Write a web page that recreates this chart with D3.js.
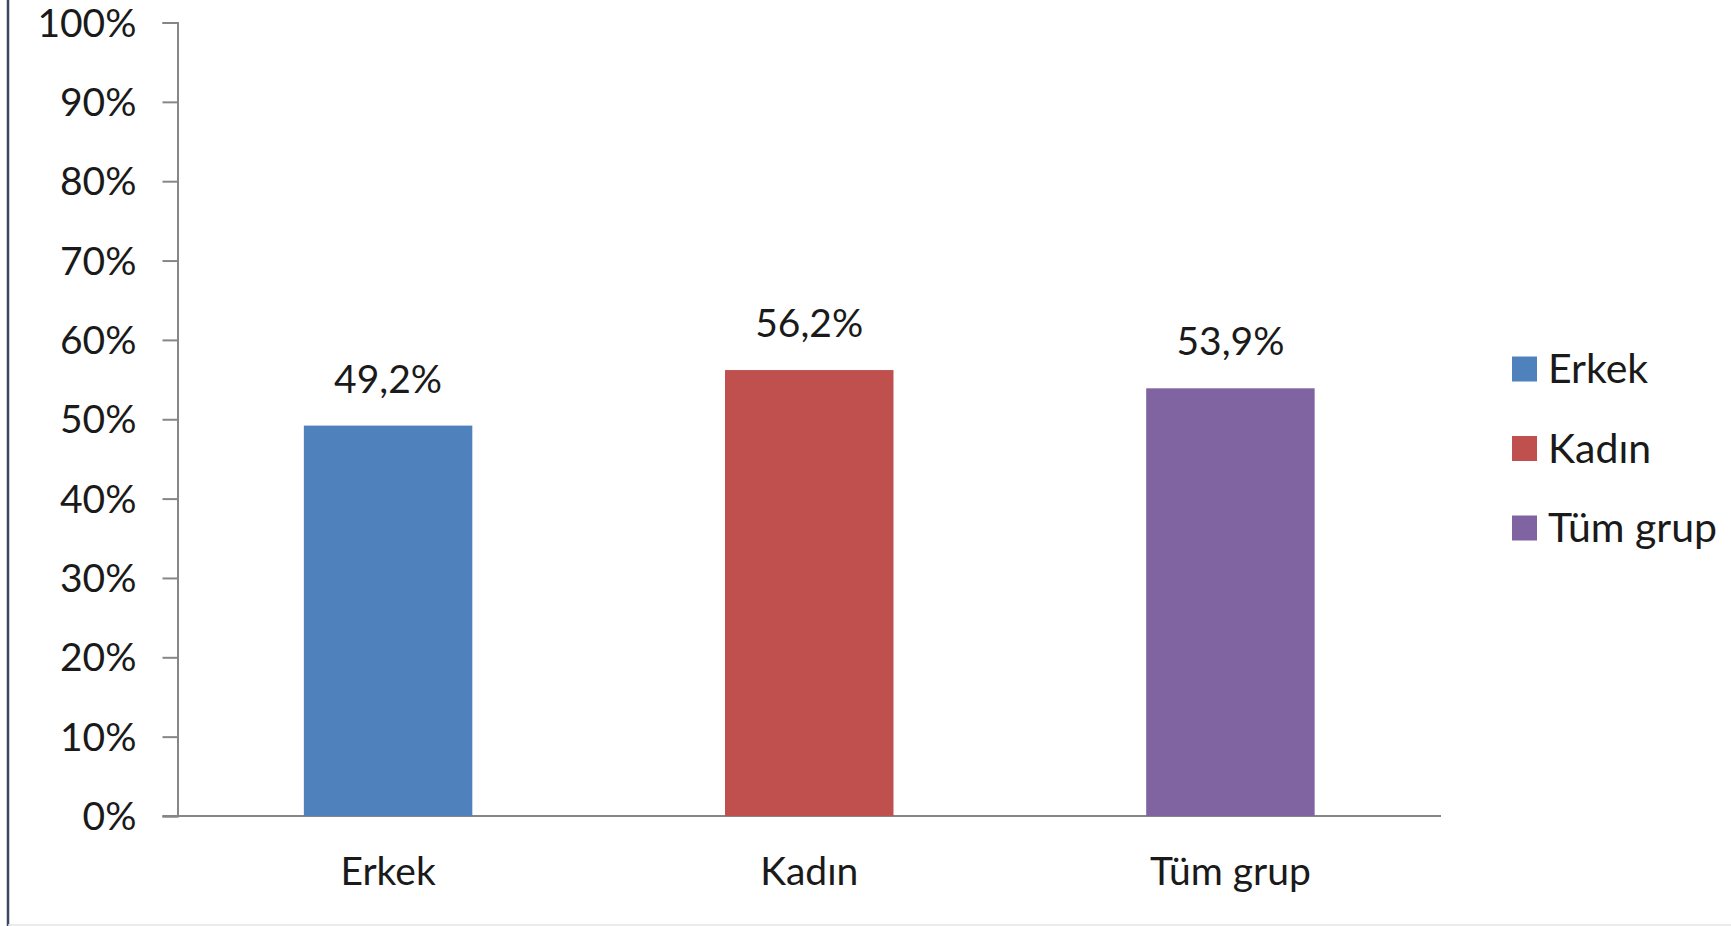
<!DOCTYPE html>
<html><head><meta charset="utf-8">
<script src="https://cdn.jsdelivr.net/npm/d3@7"></script>
<style>
html,body{margin:0;padding:0;background:#fff;}
svg{display:block;font-family:Lato,"Open Sans",sans-serif;}
</style></head>
<body>
<svg id="chart" width="1731" height="926"></svg>
<script>
const categories = ["Erkek", "Kadın", "Tüm grup"];
const values = [49.2, 56.2, 53.9];
const valueLabels = ["49,2%", "56,2%", "53,9%"];
const colors = ["#4f81bd", "#c0504d", "#8064a2"];
const yTicks = [0, 10, 20, 30, 40, 50, 60, 70, 80, 90, 100];

(function () {
const svg = d3.select("#chart");
const W = 1731, H = 926;
const mLeft = 177.5, mRight = 1441, mTop = 22.5, mBottom = 816;

// frame borders
svg.append("line").attr("x1", 8).attr("x2", 8).attr("y1", 0).attr("y2", H)
  .attr("stroke", "#3b4660").attr("stroke-width", 2.5);
svg.append("line").attr("x1", 8).attr("x2", W).attr("y1", 925).attr("y2", 925)
  .attr("stroke", "#e4e4e4").attr("stroke-width", 1.5);

const x = d3.scaleBand().domain(categories).range([mLeft, mRight]).padding(0);
const y = d3.scaleLinear().domain([0, 100]).range([mBottom, mTop]);

// y axis
const yAxis = d3.axisLeft(y).tickValues(yTicks).tickFormat(d => d + "%").tickSize(15).tickPadding(26);
const gy = svg.append("g").attr("transform", `translate(${mLeft},0)`).call(yAxis);
gy.select(".domain").attr("stroke", "#868686").attr("stroke-width", 2);
gy.selectAll(".tick line").attr("stroke", "#868686").attr("stroke-width", 2);
gy.selectAll(".tick text").attr("fill", "#1a1a1a").style("font-size", "39px")
  .style("font-family", "Lato, 'Open Sans', sans-serif").attr("dy", "0.35em");

// x axis
const xAxis = d3.axisBottom(x).tickSize(0).tickPadding(41);
const gx = svg.append("g").attr("transform", `translate(0,${mBottom})`).call(xAxis);
gx.select(".domain").attr("stroke", "#868686").attr("stroke-width", 2).attr("d", `M${mLeft - 15},0H${mRight}`);
gx.selectAll(".tick text").attr("fill", "#1a1a1a").style("font-size", "39px")
  .style("font-family", "Lato, 'Open Sans', sans-serif");

// bars
const bw = x.bandwidth() * 0.4;
svg.append("g").selectAll("rect").data(values).join("rect")
  .attr("x", (d, i) => x(categories[i]) + x.bandwidth() / 2 - bw / 2)
  .attr("y", d => y(d))
  .attr("width", bw)
  .attr("height", d => y(0) - y(d))
  .attr("fill", (d, i) => colors[i]);

// value labels
svg.append("g").selectAll("text").data(values).join("text")
  .attr("x", (d, i) => x(categories[i]) + x.bandwidth() / 2)
  .attr("y", d => y(d) - 33)
  .attr("text-anchor", "middle")
  .attr("fill", "#1a1a1a")
  .style("font-size", "39px")
  .text((d, i) => valueLabels[i]);

// legend
const lg = svg.append("g").selectAll("g").data(categories).join("g")
  .attr("transform", (d, i) => `translate(1512,${369 + i * 79.5})`);
lg.append("rect").attr("x", 0).attr("y", -12.5).attr("width", 25).attr("height", 25)
  .attr("fill", (d, i) => colors[i]);
lg.append("text").attr("x", 36).attr("y", 0).attr("dy", "0.35em")
  .attr("fill", "#1a1a1a").style("font-size", "41px").text(d => d);
})();
</script>
</body></html>
